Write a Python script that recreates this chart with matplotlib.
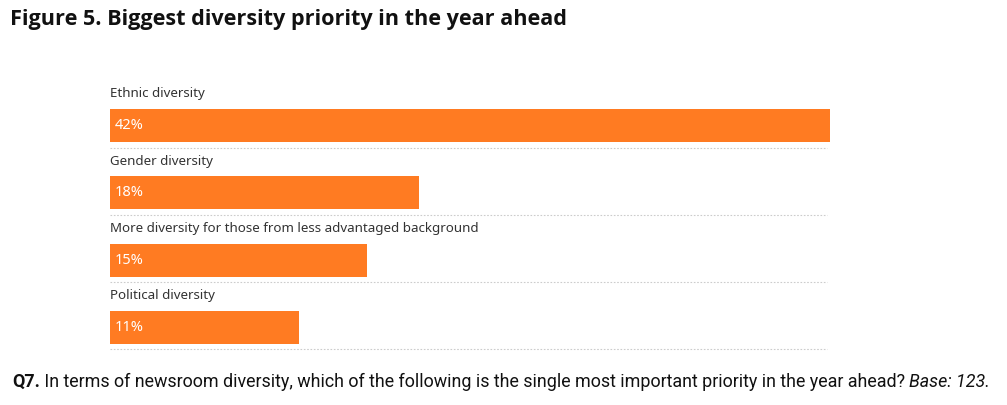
import matplotlib
matplotlib.use("Agg")
import matplotlib.pyplot as plt

categories = ["Ethnic diversity", "Gender diversity",
              "More diversity for those from less advantaged background",
              "Political diversity"]
values = [42, 18, 15, 11]

W, H = 1007, 405
fig = plt.figure(figsize=(W/100, H/100), dpi=100)
top_px, bot_px = 80, 355
ax = fig.add_axes([110/W, 1-bot_px/H, 720/W, (bot_px-top_px)/H])
step = 67.3
y0 = (top_px-125.5)/step
y1 = (bot_px-125.5)/step
ax.set_ylim(y1, y0)
ax.set_xlim(0, 42)
color = '#FF7B22'
for i, (c, v) in enumerate(zip(categories, values)):
    ax.barh(i, v, height=33/step, color=color, edgecolor='none')
    ax.text(0, i-31.5/step, c, fontsize=9.6, color='#333333', va='center', ha='left',
            family='Noto Sans')
    ax.text(0.3, i, f"{v}%", fontsize=10.5, color='white', va='center', ha='left',
            family='Noto Sans', fontweight='medium')
    ax.plot([0, 41.85], [i+22/step]*2, color='#cccccc', lw=0.8, ls=(0, (1.5, 1.5)),
            solid_capstyle='butt')
ax.axis('off')

fig.text(10/W, 1-19/H, "Figure 5. Biggest diversity priority in the year ahead",
         fontsize=15.6, fontweight='bold', family='Open Sans', va='center', ha='left',
         color='#111111')

fn = 'Roboto'
fs = 12.9
renderer = fig.canvas.get_renderer()
x = 12 / W
yb = 1 - 387 / H
segments = [("Q7.", dict(fontweight='bold')),
            (" In terms of newsroom diversity, which of the following is the single most important priority in the year ahead? ", {}),
            ("Base: 123.", dict(style='italic'))]
for s, kw in segments:
    t = fig.text(x, yb, s, fontsize=fs, family=fn, color='#111111', va='baseline', ha='left', **kw)
    bb = t.get_window_extent(renderer=renderer)
    x += bb.width / W
fig.savefig("out.png", dpi=100, facecolor='white')
